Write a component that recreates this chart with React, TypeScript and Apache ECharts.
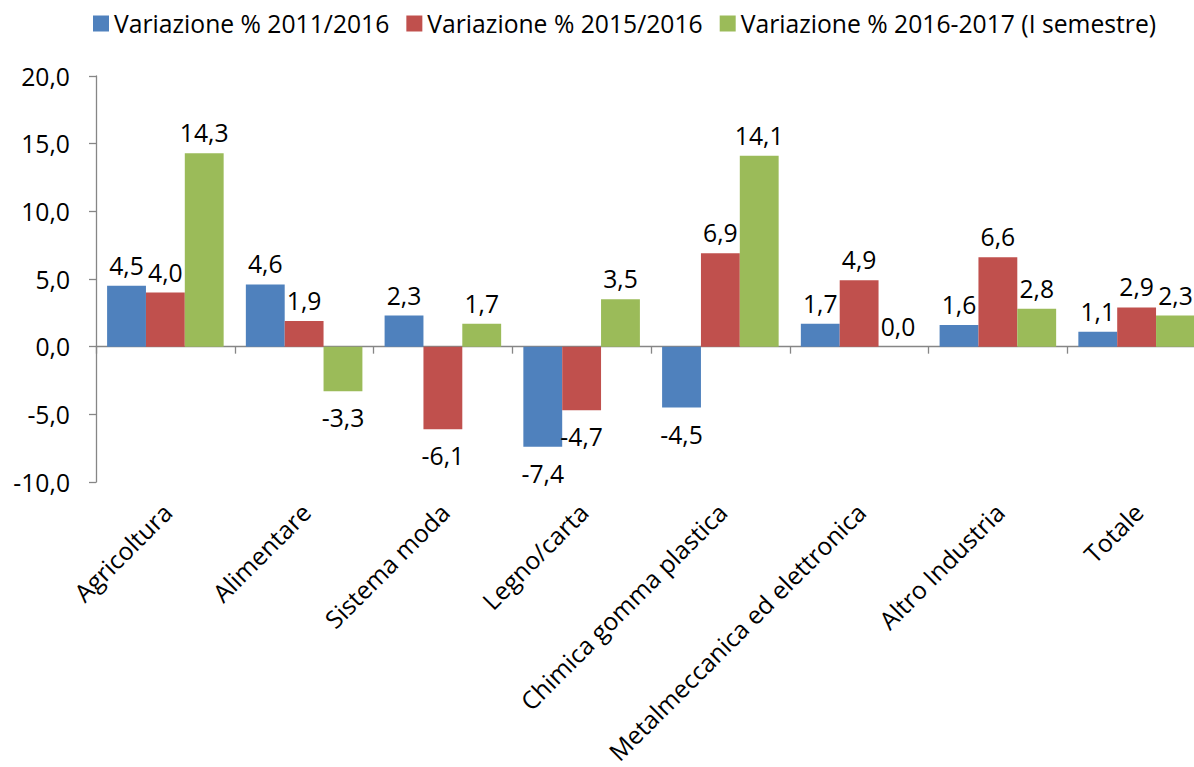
import React, { useEffect, useRef } from "react";
import * as echarts from "echarts";

const categories = [
  "Agricoltura",
  "Alimentare",
  "Sistema moda",
  "Legno/carta",
  "Chimica gomma plastica",
  "Metalmeccanica ed elettronica",
  "Altro Industria",
  "Totale",
];
const seriesNames = [
  "Variazione % 2011/2016",
  "Variazione % 2015/2016",
  "Variazione % 2016-2017 (I semestre)",
];
const var20112016 = [4.5, 4.6, 2.3, -7.4, -4.5, 1.7, 1.6, 1.1];
const var20152016 = [4.0, 1.9, -6.1, -4.7, 6.9, 4.9, 6.6, 2.9];
const var20162017 = [14.3, -3.3, 1.7, 3.5, 14.1, 0.0, 2.8, 2.3];
const colors = ["#4F81BD", "#C0504D", "#9BBB59"];

const FONT = "Open Sans";
const FS = 24.7;
const fmt = (v: number) => v.toFixed(1).replace(".", ",");

export default function App() {
  const ref = useRef<HTMLDivElement>(null);
  useEffect(() => {
    if (!ref.current) return;
    const chart = echarts.init(ref.current, undefined, { renderer: "svg" });
    const allSeries = [var20112016, var20152016, var20162017];
    const gridPos = { left: 96, top: 76, width: 1110, height: 406 };
    chart.setOption({
      animation: false,
      textStyle: { fontFamily: FONT, color: "#000" },
      legend: {
        data: seriesNames,
        left: 88,
        top: 6,
        icon: "rect",
        itemWidth: 16,
        itemHeight: 16,
        itemGap: 17,
        textStyle: { fontSize: FS, color: "#000", fontFamily: FONT },
      },
      grid: [
        { ...gridPos, containLabel: false },
        { ...gridPos, left: 98, containLabel: false },
      ],
      xAxis: [
        {
          type: "category",
          data: categories,
          gridIndex: 0,
          position: "bottom",
          axisLine: { show: true, onZero: true, lineStyle: { color: "#868686", width: 1.3 } },
          axisTick: { show: true, length: 7, interval: 0, alignWithLabel: false, lineStyle: { color: "#868686", width: 1.3 } },
          axisLabel: { show: false },
          splitLine: { show: false },
        },
        {
          type: "category",
          data: categories,
          gridIndex: 1,
          position: "bottom",
          axisLine: { show: false, onZero: false },
          axisTick: { show: false },
          axisLabel: {
            show: true,
            interval: 0,
            rotate: 45,
            margin: 36,
            fontSize: FS,
            color: "#000",
            fontFamily: FONT,
          },
          splitLine: { show: false },
        },
      ],
      yAxis: [
        {
          type: "value",
          gridIndex: 0,
          min: -10,
          max: 20,
          interval: 5,
          axisLine: { show: true, lineStyle: { color: "#868686", width: 1.3 } },
          axisTick: { show: true, length: 7, lineStyle: { color: "#868686", width: 1.3 } },
          axisLabel: {
            formatter: (v: number) => fmt(v),
            fontSize: FS,
            color: "#000",
            margin: 26,
            fontFamily: FONT,
          },
          splitLine: { show: false },
        },
        {
          type: "value",
          gridIndex: 1,
          min: -10,
          max: 20,
          show: false,
          splitLine: { show: false },
        },
      ],
      series: allSeries.map((vals, i) => ({
        name: seriesNames[i],
        type: "bar",
        xAxisIndex: 0,
        yAxisIndex: 0,
        barGap: "0%",
        barCategoryGap: "16%",
        itemStyle: { color: colors[i] },
        data: vals.map((v) => ({
          value: v,
          label: {
            show: true,
            position: v < 0 ? "bottom" : "top",
            distance: v < 0 ? 14 : 8,
            formatter: () => fmt(v),
            fontSize: FS,
            color: "#000",
            fontFamily: FONT,
          },
        })),
      })),
    });
    return () => chart.dispose();
  }, []);
  return (
    <div
      ref={ref}
      style={{ position: "fixed", left: 0, top: 0, width: 1220, height: 767, background: "#fff" }}
    />
  );
}
